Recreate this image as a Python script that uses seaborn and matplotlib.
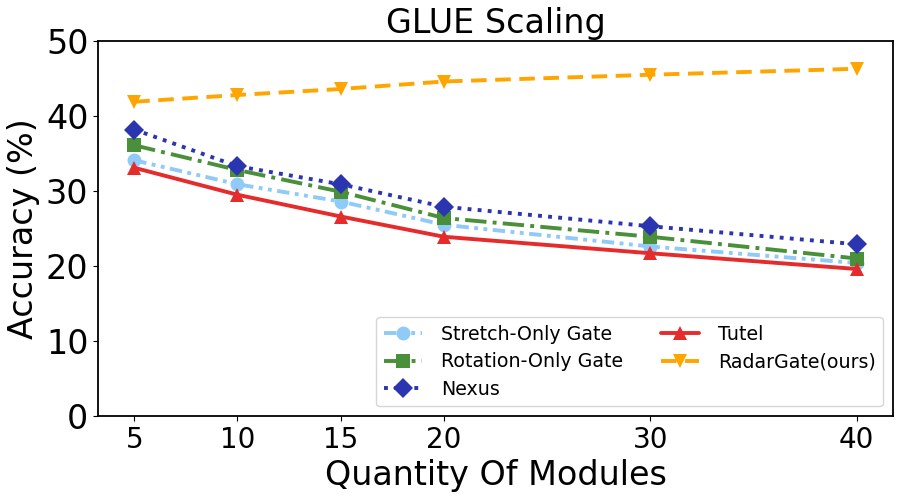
import pandas as pd
import matplotlib
matplotlib.use("Agg")
import matplotlib.pyplot as plt
import seaborn as sns

sns.set_style("ticks", {"text.color": "black", "axes.labelcolor": "black",
                        "xtick.color": "black", "ytick.color": "black",
                        "axes.edgecolor": "black"})

modules = [5, 10, 15, 20, 30, 40]
stretch_only = [34.1, 30.9, 28.6, 25.5, 22.6, 20.4]
rotation_only = [36.1, 32.8, 29.9, 26.4, 23.9, 21.0]
nexus = [38.2, 33.3, 30.9, 27.9, 25.3, 22.9]
tutel = [33.1, 29.5, 26.6, 23.9, 21.7, 19.6]
radargate = [41.9, 42.8, 43.6, 44.6, 45.5, 46.3]

# label, values, colour, marker, dash pattern
series = [
    ("Stretch-Only Gate", stretch_only, "#90caf9", "o", (3.2, 1.4, 1, 1.4, 1, 1.4)),
    ("Rotation-Only Gate", rotation_only, "#4a8f3a", "s", (5.5, 1.6, 1, 1.6)),
    ("Nexus", nexus, "#2b35b0", "D", (1, 1.6)),
    ("Tutel", tutel, "#e52b2b", "^", None),
    ("RadarGate(ours)", radargate, "#ffa500", "v", (4, 2.2)),
]

fig, ax = plt.subplots(figsize=(9, 5), dpi=100)

for name, vals, col, mk, dash in series:
    df = pd.DataFrame({"Quantity Of Modules": modules, "Accuracy": vals})
    kw = {}
    if dash is not None:
        kw["dashes"] = dash
    sns.lineplot(data=df, x="Quantity Of Modules", y="Accuracy", ax=ax,
                 label=name, color=col, marker=mk, markersize=10,
                 markeredgewidth=0, linewidth=2.8, **kw)

ax.set_ylim(0, 50)
ax.set_xticks(modules)
ax.set_yticks([0, 10, 20, 30, 40, 50])
ax.tick_params(axis="x", labelsize=20)
ax.tick_params(axis="y", labelsize=24)
ax.set_xlabel("Quantity Of Modules", fontsize=24)
ax.set_ylabel("Accuracy (%)", fontsize=24)
ax.set_title("GLUE Scaling", fontsize=24)
for s in ax.spines.values():
    s.set_visible(True)
    s.set_linewidth(1.3)

ax.legend(loc="lower right", ncol=2, fontsize=13.7, frameon=True,
          handlelength=2.0, handletextpad=1.0, columnspacing=2.0,
          labelspacing=0.45)

fig.subplots_adjust(left=0.109, right=0.992, top=0.918, bottom=0.168)
fig.savefig("out.png", dpi=100)
